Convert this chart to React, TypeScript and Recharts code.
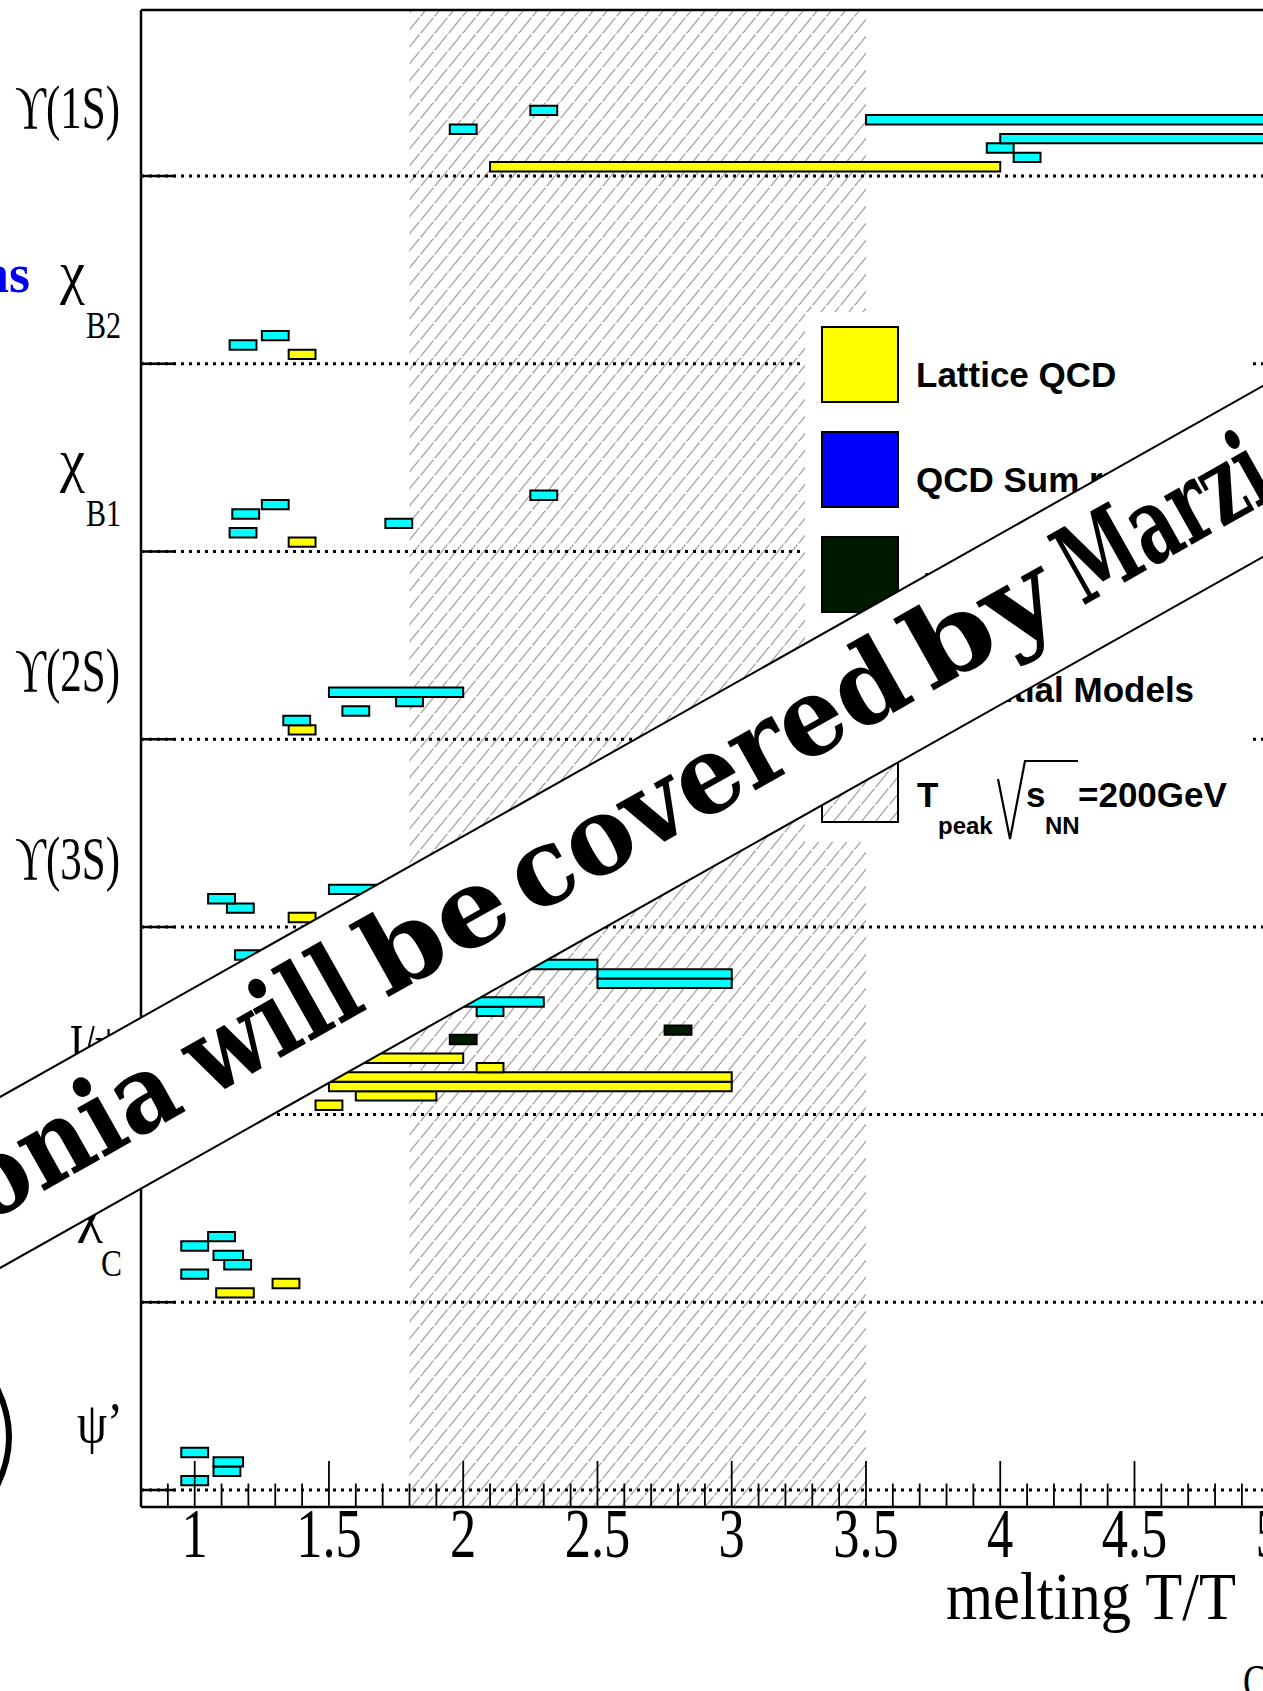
import React from "react";
import {
  ComposedChart,
  XAxis,
  YAxis,
  ReferenceArea,
  ReferenceLine,
  Legend
} from "recharts";

// quarkonium states, bottom row first; each one gets a dotted row line
const states = ["ψ’", "χ", "J/ψ", "ϒ(3S)", "ϒ(2S)", "χ", "χ", "ϒ(1S)"];
const stateSubs = ["", "C", "", "", "", "B1", "B2", ""];

// melting ranges: [state, stack row above the line, T/Tc from, T/Tc to]
const latticeQcd = [
  [7, 1, 2.1, 4.0],
  [6, 1, 1.35, 1.45],
  [5, 1, 1.35, 1.45],
  [4, 1, 1.35, 1.45],
  [3, 1, 1.35, 1.45],
  [2, 1, 1.45, 1.55],
  [2, 2, 1.6, 1.9],
  [2, 3, 1.5, 3.0],
  [2, 4, 1.5, 3.0],
  [2, 5, 2.05, 2.15],
  [2, 6, 1.5, 2.0],
  [1, 1, 1.08, 1.22],
  [1, 2, 1.29, 1.39]
];

const adsQcd = [
  [2, 8, 1.95, 2.05],
  [2, 9, 2.75, 2.85]
];

const potentialModels = [
  [7, 2, 4.05, 4.15],
  [7, 3, 3.95, 4.05],
  [7, 4, 4.0, 6.0],
  [7, 5, 1.95, 2.05],
  [7, 6, 3.5, 6.0],
  [7, 7, 2.25, 2.35],
  [6, 2, 1.13, 1.23],
  [6, 3, 1.25, 1.35],
  [5, 2, 1.13, 1.23],
  [5, 3, 1.71, 1.81],
  [5, 4, 1.14, 1.24],
  [5, 5, 1.25, 1.35],
  [5, 6, 2.25, 2.35],
  [4, 2, 1.33, 1.43],
  [4, 3, 1.55, 1.65],
  [4, 4, 1.75, 1.85],
  [4, 5, 1.5, 2.0],
  [3, 2, 1.12, 1.22],
  [3, 3, 1.05, 1.15],
  [3, 4, 1.5, 2.0],
  [2, 11, 2.05, 2.15],
  [2, 12, 1.8, 2.3],
  [2, 14, 2.5, 3.0],
  [2, 15, 2.5, 3.0],
  [2, 16, 2.0, 2.5],
  [2, 17, 1.15, 1.25],
  [1, 3, 0.95, 1.05],
  [1, 4, 1.11, 1.21],
  [1, 5, 1.07, 1.18],
  [1, 6, 0.95, 1.05],
  [1, 7, 1.05, 1.15],
  [0, 1, 0.95, 1.05],
  [0, 2, 1.07, 1.17],
  [0, 3, 1.07, 1.18],
  [0, 4, 0.95, 1.05]
];

// peak temperature band at sqrt(s_NN) = 200 GeV
const tPeakBand = [1.8, 3.5];

const xTicks = [1, 1.5, 2, 2.5, 3, 3.5, 4, 4.5, 5, 5.5];
const X_MIN = 0.8;
const X_MAX = 5.5;
const Y_MIN = -0.0906;
const Y_MAX = 7.885;

const minorTicks = Array.from({ length: 47 }, (_, i) => Math.round((X_MIN + i * 0.1) * 10) / 10)
  .filter((v) => v > X_MIN && v < X_MAX && Math.round(v * 10) % 5 !== 0);

const ROW = 0.05; // height of one stacked bar, in row units
const MAJOR_LEN = 0.245;
const MINOR_LEN = 0.125;

const COLORS = {
  lattice: "#ffff00",
  sumRules: "#0000ff",
  ads: "#001a00",
  potential: "#00ffff"
};

const SERIF = "'Liberation Serif', 'DejaVu Serif', serif";
const SANS = "'Liberation Sans', Arial, sans-serif";

const W = 1413;
const H = 1691;

const XTickLabel = (props: any) => {
  const { x, y, payload } = props;
  return (
    <text
      transform={`translate(${x},${y + 50}) scale(0.75,1)`}
      textAnchor="middle"
      fontFamily={SERIF}
      fontSize={70}
      fill="#000"
    >
      {payload.value}
    </text>
  );
};

const StateLabel = (props: any) => {
  const { y, payload } = props;
  const i = payload.value;
  const name = states[i];
  const sub = stateSubs[i];
  if (sub) {
    const chiX = sub === "C" ? 78 : 60;
    const subX = sub === "C" ? 101 : 86;
    const subW = sub === "C" ? 21 : 35;
    return (
      <g fill="#000" fontFamily={SERIF}>
        <text x={chiX} y={y - 72} fontSize={60} textLength={25} lengthAdjust="spacingAndGlyphs">
          {name}
        </text>
        <text x={subX} y={y - 26} fontSize={38} textLength={subW} lengthAdjust="spacingAndGlyphs">
          {sub}
        </text>
      </g>
    );
  }
  if (name === "ψ’") {
    return (
      <text x={77} y={y - 48} fontFamily={SERIF} fontSize={58} fill="#000" textLength={46} lengthAdjust="spacingAndGlyphs">
        {name}
      </text>
    );
  }
  if (name === "J/ψ") {
    return (
      <text x={66} y={y - 49} fontFamily={SERIF} fontSize={62} fill="#000" textLength={56} lengthAdjust="spacingAndGlyphs">
        {name}
      </text>
    );
  }
  return (
    <text x={15} y={y - 48} fontFamily={SERIF} fontSize={62} fill="#000" textLength={105} lengthAdjust="spacingAndGlyphs">
      {name}
    </text>
  );
};

const AxisTitle = () => (
  <g fill="#000" fontFamily={SERIF}>
    <text x={946} y={1619} fontSize={68} textLength={290} lengthAdjust="spacingAndGlyphs">
      melting T/T
    </text>
    <text x={1243} y={1698} fontSize={48} textLength={24} lengthAdjust="spacingAndGlyphs">
      C
    </text>
  </g>
);

const legendItems = [
  { label: "Lattice QCD", fill: COLORS.lattice },
  { label: "QCD Sum rules", fill: COLORS.sumRules },
  { label: "AdS/QCD", fill: COLORS.ads },
  { label: "Potential Models", fill: COLORS.potential }
];

const LegendBox = () => (
  <svg width={443} height={530} style={{ display: "block" }}>
    <rect width={443} height={530} fill="#fff" />
    {legendItems.map((it, i) => (
      <g key={it.label}>
        <rect x={17} y={15 + i * 105} width={76} height={75} fill={it.fill} stroke="#000" strokeWidth={2} />
        <text x={111} y={75 + i * 105} fontFamily={SANS} fontWeight="bold" fontSize={35} fill="#000">
          {it.label}
        </text>
      </g>
    ))}
    <rect x={17} y={435} width={76} height={75} fill="url(#tpeak-hatch)" stroke="#000" strokeWidth={2} />
    <g fontFamily={SANS} fontWeight="bold" fill="#000">
      <text x={112} y={495} fontSize={35}>T</text>
      <text x={133} y={522} fontSize={24}>peak</text>
      <polyline points="193,467 205,527 220,449 273,449" fill="none" stroke="#000" strokeWidth={2.2} />
      <text x={221} y={495} fontSize={35}>s</text>
      <text x={240} y={522} fontSize={24}>NN</text>
      <text x={273} y={495} fontSize={35}>=200GeV</text>
    </g>
  </svg>
);

// banner words: [text, start along the band, length along the band]
const bannerWords: [string, number, number][] = [
  ["onia", -33, 232],
  ["will", 223, 184],
  ["be", 427, 152],
  ["covered", 594, 442],
  ["by", 1052, 155],
  ["Marzi", 1226, 226],
  ["a", 1462, 60]
];
const bandAngle = 29.38;

export default function App() {
  const bars = [
    ...latticeQcd.map((b) => ({ b, fill: COLORS.lattice })),
    ...adsQcd.map((b) => ({ b, fill: COLORS.ads })),
    ...potentialModels.map((b) => ({ b, fill: COLORS.potential }))
  ];

  return (
    <div
      style={{
        position: "absolute",
        left: 0,
        top: 0,
        width: 1263,
        height: H,
        overflow: "hidden",
        background: "#fff"
      }}
    >
      <svg width={0} height={0} style={{ position: "absolute" }}>
        <defs>
          <pattern id="tpeak-hatch" patternUnits="userSpaceOnUse" width={14} height={17}>
            <line x1={0.6} y1={16.4} x2={13.4} y2={0.6} stroke="#a39c9c" strokeWidth={1.2} />
          </pattern>
        </defs>
      </svg>

      <ComposedChart width={W} height={H} margin={{ top: 10, right: 10, bottom: 84, left: 0 }}>
        <XAxis
          type="number"
          dataKey="x"
          domain={[X_MIN, X_MAX]}
          allowDataOverflow
          ticks={xTicks}
          interval={0}
          height={100}
          tickSize={0}
          tickMargin={0}
          tickLine={false}
          axisLine={{ stroke: "#000", strokeWidth: 2.5 }}
          tick={<XTickLabel />}
          label={<AxisTitle />}
        />
        <YAxis
          type="number"
          dataKey="y"
          domain={[Y_MIN, Y_MAX]}
          allowDataOverflow
          ticks={states.map((_, i) => i)}
          interval={0}
          width={141}
          tickSize={0}
          tickLine={false}
          axisLine={{ stroke: "#000", strokeWidth: 2.5 }}
          tick={<StateLabel />}
        />

        <ReferenceArea
          x1={tPeakBand[0]}
          x2={tPeakBand[1]}
          y1={Y_MIN}
          y2={Y_MAX}
          fill="url(#tpeak-hatch)"
          fillOpacity={1}
          stroke="none"
          ifOverflow="visible"
        />

        {states.map((_, i) => (
          <ReferenceLine
            key={`row-${i}`}
            y={i}
            stroke="#000"
            strokeWidth={3}
            strokeDasharray="3 5"
          />
        ))}
        {states.map((_, i) => (
          <ReferenceLine
            key={`rowtick-${i}`}
            segment={[{ x: X_MIN, y: i }, { x: 0.93, y: i }]}
            stroke="#000"
            strokeWidth={2.5}
          />
        ))}

        {xTicks.map((v) => (
          <ReferenceLine
            key={`maj-${v}`}
            segment={[{ x: v, y: Y_MIN }, { x: v, y: Y_MIN + MAJOR_LEN }]}
            stroke="#000"
            strokeWidth={1.8}
          />
        ))}
        {minorTicks.map((v) => (
          <ReferenceLine
            key={`min-${v}`}
            segment={[{ x: v, y: Y_MIN }, { x: v, y: Y_MIN + MINOR_LEN }]}
            stroke="#000"
            strokeWidth={1.8}
          />
        ))}

        <ReferenceLine y={Y_MAX} stroke="#000" strokeWidth={2.5} />

        {bars.map(({ b, fill }, k) => (
          <ReferenceArea
            key={`bar-${k}`}
            x1={b[2]}
            x2={b[3]}
            y1={b[0] + (b[1] - 0.5) * ROW}
            y2={b[0] + (b[1] + 0.5) * ROW}
            fill={fill}
            fillOpacity={1}
            stroke="#000"
            strokeWidth={2}
            ifOverflow="visible"
          />
        ))}

        <Legend
          layout="vertical"
          align="center"
          verticalAlign="middle"
          content={<LegendBox />}
          wrapperStyle={{ left: 805, top: 312, width: 443, height: 530 }}
        />
      </ComposedChart>

      <svg width={1263} height={H} style={{ position: "absolute", left: 0, top: 0, pointerEvents: "none" }}>
        <g transform={`translate(0 1182.5) rotate(${-bandAngle})`}>
          <rect x={-600} y={-74.5} width={3200} height={149} fill="#fff" stroke="#000" strokeWidth={2} />
          <g fontFamily="'DejaVu Serif', serif" fontWeight="bold" fontSize={108} fill="#000">
            <text x={-33} y={29} textAnchor="end">Quark</text>
            {bannerWords.map(([w, s, len]) => (
              <text key={w} x={s} y={29} textLength={len} lengthAdjust="spacingAndGlyphs">
                {w}
              </text>
            ))}
          </g>
        </g>
        <text x={30} y={292} textAnchor="end" fontFamily={SERIF} fontWeight="bold" fontSize={54} fill="#0000ee">
          ns
        </text>
        <path d="M -3 1388 Q 21 1437 -3 1486" fill="none" stroke="#000" strokeWidth={6} />
      </svg>
    </div>
  );
}
